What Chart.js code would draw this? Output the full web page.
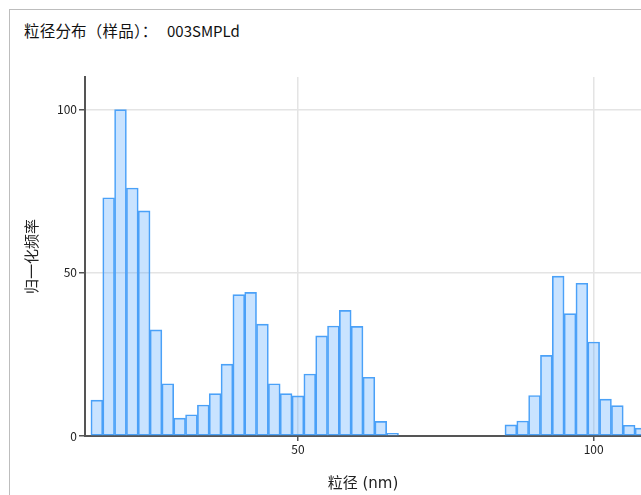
<!DOCTYPE html>
<html>
<head>
<meta charset="utf-8">
<script src="https://cdn.jsdelivr.net/npm/chart.js@4/dist/chart.umd.min.js"></script>
<style>
  html, body { margin: 0; padding: 0; background: #fff; overflow: hidden; }
  #wrap { position: relative; width: 641px; height: 495px; }
  #frame { position: absolute; left: 9px; top: 9px; width: 700px; height: 600px;
           border-left: 1px solid #bdbdbd; border-top: 1px solid #bdbdbd; }
  .title { position: absolute; line-height: 16px; color: #111; white-space: pre;
           font-family: "Noto Sans CJK SC", sans-serif; }
  #titleLabel { left: 24px; top: 22px; font-size: 15.5px; letter-spacing: 0.2px; }
  #titleSample { left: 167px; top: 23px; font-size: 15px; }
  #c { position: absolute; left: 0; top: 0; }
</style>
</head>
<body>
<div id="wrap">
  <div id="frame"></div>
  <div class="title" id="titleLabel">粒径分布（样品）：</div>
  <div class="title" id="titleSample">003SMPLd</div>
  <canvas id="c" width="641" height="495"></canvas>
</div>
<script>
// Histogram bins: centre of each 2 nm bin and its normalised frequency
const binCenters = [16, 18, 20, 22, 24, 26, 28, 30, 32, 34, 36, 38, 40, 42, 44, 46, 48, 50,
                    52, 54, 56, 58, 60, 62, 64, 66,
                    86, 88, 90, 92, 94, 96, 98, 100, 102, 104, 106, 108];
const frequencies = [11, 73, 100, 76, 69, 32.5, 16, 5.5, 6.5, 9.5, 13, 22, 43.3, 44, 34.3, 16, 13, 12.3,
                     19, 30.7, 33.7, 38.5, 33.6, 18, 4.5, 0.8,
                     3.4, 4.6, 12.4, 24.7, 49, 37.5, 46.8, 28.8, 11.3, 9.3, 3.3, 2.4];
const xTicks = [50, 100];
const yTicks = [0, 50, 100];

const axisColor = '#555';
const gridColor = '#e4e4e4';
const textColor = '#222';
const titleFont = { family: '"DejaVu Sans", "Noto Sans CJK SC"', size: 15 };

new Chart(document.getElementById('c'), {
  type: 'bar',
  data: {
    datasets: [{
      data: binCenters.map((x, i) => ({ x: x, y: frequencies[i] })),
      backgroundColor: 'rgba(77,163,255,0.3)',
      borderColor: '#4ba1f7',
      borderWidth: 1,
      borderSkipped: false,
      barPercentage: 1,
      categoryPercentage: 1
    }]
  },
  options: {
    responsive: false,
    animation: false,
    datasets: { bar: { barPercentage: 1, categoryPercentage: 1 } },
    layout: { padding: { left: 0, right: 0, top: 77, bottom: 0 } },
    plugins: { legend: { display: false }, tooltip: { enabled: false }, title: { display: false } },
    scales: {
      x: {
        type: 'linear',
        min: 14,
        max: 108,
        offset: false,
        afterFit: s => { s.height = 59; },
        afterBuildTicks: s => { s.ticks = xTicks.map(v => ({ value: v })); },
        grid: { offset: false, color: gridColor, lineWidth: 1.5, tickColor: axisColor, tickLength: 5 },
        border: { color: axisColor, width: 2 },
        ticks: { color: textColor, font: { family: 'Noto Sans CJK SC', size: 12 }, padding: 1, maxRotation: 0 },
        title: { display: true, text: '粒径 (nm)', color: textColor, font: titleFont,
                 padding: { top: 0, bottom: 2 } }
      },
      y: {
        min: 0,
        max: 110,
        afterFit: s => { s.width = 85; },
        afterBuildTicks: s => { s.ticks = yTicks.map(v => ({ value: v })); },
        grid: { color: ctx => ctx.tick && ctx.tick.value === 0 ? 'rgba(0,0,0,0)' : gridColor,
                lineWidth: 1.5, tickColor: axisColor, tickLength: 6 },
        border: { color: axisColor, width: 2 },
        ticks: { color: textColor, font: { family: 'Noto Sans CJK SC', size: 12 }, padding: 2 },
        title: { display: true, text: '归一化频率', color: textColor, font: titleFont,
                 padding: { top: 24, bottom: 0 } }
      }
    }
  }
});
</script>
</body>
</html>
